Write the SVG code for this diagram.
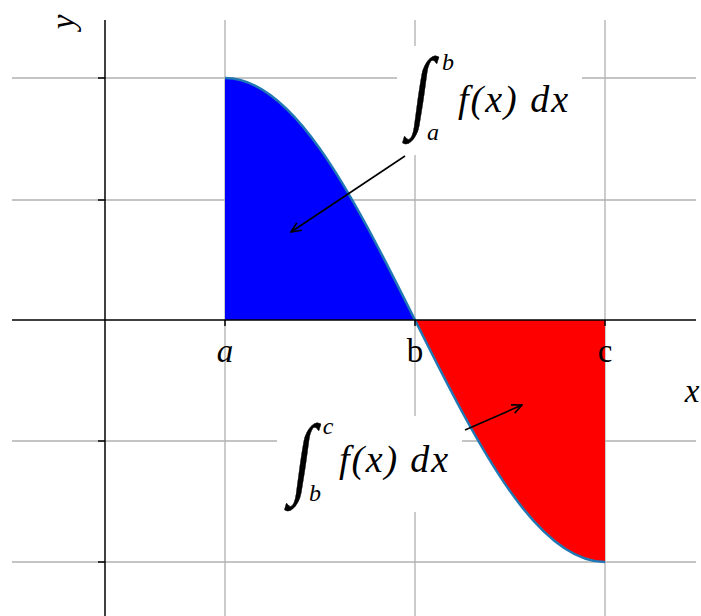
<svg xmlns="http://www.w3.org/2000/svg" width="701" height="616" viewBox="0 0 701 616">
<defs>
<style>
.grid{stroke:#b0b0b0;stroke-width:1.3;fill:none}
.axis{stroke:#000;stroke-width:1.5;fill:none}
.tk{stroke:#000;stroke-width:1.5}
.t{font-family:"Liberation Serif","DejaVu Serif",serif;fill:#000}
.it{font-style:italic}
.m{font-size:38px}
.s{font-size:24px}
.int{stroke:#000;stroke-width:0.35}
.arr{stroke:#000;stroke-width:1.6;fill:none}
</style>
<marker id="ah" viewBox="0 0 12 12" refX="11" refY="6" markerWidth="12" markerHeight="12" markerUnits="userSpaceOnUse" orient="auto">
<path d="M1,1.5 L11,6 L1,10.5" fill="none" stroke="#000" stroke-width="1.6"/>
</marker>
</defs>
<rect width="701" height="616" fill="#fff"/>
<g id="grid">
<line class="grid" x1="225" y1="20" x2="225" y2="616"/>
<line class="grid" x1="415" y1="20" x2="415" y2="616"/>
<line class="grid" x1="605" y1="20" x2="605" y2="616"/>
<line class="grid" x1="12" y1="78" x2="696" y2="78"/>
<line class="grid" x1="12" y1="200" x2="696" y2="200"/>
<line class="grid" x1="12" y1="441" x2="696" y2="441"/>
<line class="grid" x1="12" y1="562" x2="696" y2="562"/>
</g>
<g id="area-ab">
<path fill="#0000ff" d="M225,320 L225,78 C256.67,78 288.33,104.08 320,148.88 C351.67,193.68 383.33,256.64 415,320 Z"/>
</g>
<g id="area-bc">
<path fill="#ff0000" d="M415,320 C446.67,383.36 478.33,446.32 510,491.12 C541.67,535.92 573.33,562 605,562 L605,320 Z"/>
</g>
<g id="curve">
<path fill="none" stroke="#1f77b4" stroke-width="2.5" d="M225,78 C256.67,78 288.33,104.08 320,148.88 C351.67,193.68 383.33,256.64 415,320 C446.67,383.36 478.33,446.32 510,491.12 C541.67,535.92 573.33,562 605,562"/>
</g>
<g id="axes">
<line class="axis" x1="12" y1="320" x2="696" y2="320"/>
<line class="axis" x1="105" y1="20" x2="105" y2="616"/>
<line class="tk" x1="98" y1="78" x2="105" y2="78"/>
<line class="tk" x1="98" y1="200" x2="105" y2="200"/>
<line class="tk" x1="98" y1="441" x2="105" y2="441"/>
<line class="tk" x1="98" y1="562" x2="105" y2="562"/>
<line class="tk" x1="225" y1="320" x2="225" y2="326"/>
<line class="tk" x1="415" y1="320" x2="415" y2="326"/>
<line class="tk" x1="605" y1="320" x2="605" y2="326"/>
</g>
<g id="tick-labels">
<text class="t it" x="225" y="362" font-size="33" text-anchor="middle">a</text>
<text class="t" x="415" y="362" font-size="33" text-anchor="middle">b</text>
<text class="t" x="605" y="362" font-size="33" text-anchor="middle">c</text>
<text class="t it" x="692" y="402" font-size="33" text-anchor="middle">x</text>
<text class="t it" x="0" y="0" font-size="33" text-anchor="middle" transform="translate(74,22) rotate(-90)">y</text>
</g>
<g id="label-ab">
<rect x="397" y="46" width="185" height="109" fill="#fff"/>
<text class="t int" x="0" y="0" font-size="62" transform="translate(409,120) skewX(-8) scale(1.05,1.45)">∫</text>
<text class="t it s" x="448" y="70" text-anchor="middle">b</text>
<text class="t it s" x="433" y="140" text-anchor="middle">a</text>
<text class="t it m" x="458" y="112" textLength="110" lengthAdjust="spacing">f(x) dx</text>
</g>
<g id="label-bc">
<rect x="277" y="416" width="185" height="96" fill="#fff"/>
<text class="t int" x="0" y="0" font-size="62" transform="translate(291,487) skewX(-8) scale(1.05,1.45)">∫</text>
<text class="t it s" x="328" y="434" text-anchor="middle">c</text>
<text class="t it s" x="315" y="501" text-anchor="middle">b</text>
<text class="t it m" x="339" y="472" textLength="109" lengthAdjust="spacing">f(x) dx</text>
</g>
<g id="connectors">
<line class="arr" x1="405" y1="156" x2="291" y2="232" marker-end="url(#ah)"/>
<line class="arr" x1="465" y1="430" x2="522" y2="405" marker-end="url(#ah)"/>
</g>
</svg>
